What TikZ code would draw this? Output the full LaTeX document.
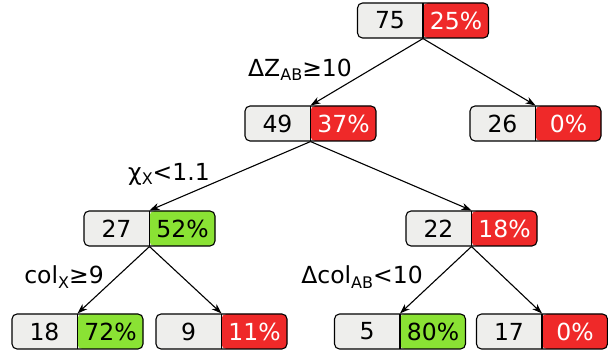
\documentclass[tikz,border=0pt]{standalone}
\usepackage{fontspec}
\setmainfont{DejaVu Sans}
\usetikzlibrary{arrows.meta}
\definecolor{boxgray}{HTML}{EEEEEC}
\definecolor{tred}{HTML}{EF2929}
\definecolor{tgreen}{HTML}{8AE234}
\newcommand\lowtext[1]{\raisebox{-0.35ex}{\fontsize{16}{16}\selectfont #1}}
\tikzset{
  box/.style={draw=black, line width=1.1pt, rounded corners=5pt, minimum width=131pt, minimum height=35pt, inner sep=0pt, fill=boxgray,
    path picture={\fill[#1] (path picture bounding box.south) rectangle (path picture bounding box.north east);
      \draw[line width=1.1pt] (path picture bounding box.south) -- (path picture bounding box.north);}},
  txt/.style={font=\fontsize{23.5}{25}\selectfont, inner sep=0pt},
  lbl/.style={font=\fontsize{23.5}{25}\selectfont, inner sep=0pt},
  edge/.style={line width=1.1pt, -{Stealth[length=10pt,width=7pt,inset=3pt]}}
}
\newcommand\treenode[7]{%
  \node[box=#6] (#1) at (#2,#3) {};
  \node[txt] at ([xshift=-33pt]#1.center) {#4};
  \node[txt,text=#7] at ([xshift=33pt]#1.center) {#5};
}
\begin{document}
\begin{tikzpicture}[x=1pt,y=-1pt]
\useasboundingbox (0,0) rectangle (608,352);
\treenode{n75}{423}{20.5}{75}{25\%}{tred}{white}
\treenode{n49}{310.5}{123.5}{49}{37\%}{tred}{white}
\treenode{n26}{535.5}{123.5}{26}{0\%}{tred}{white}
\treenode{n27}{149.5}{228.5}{27}{52\%}{tgreen}{black}
\treenode{n22}{471.5}{228.5}{22}{18\%}{tred}{white}
\treenode{n18}{77.5}{331.5}{18}{72\%}{tgreen}{black}
\treenode{n9}{221.5}{331.5}{9}{11\%}{tred}{white}
\treenode{n5}{400}{331.5}{5}{80\%}{tgreen}{black}
\treenode{n17}{542}{331.5}{17}{0\%}{tred}{white}
\draw[edge] (n75.south) -- (n49.north);
\draw[edge] (n75.south) -- (n26.north);
\draw[edge] (n49.south) -- (n27.north);
\draw[edge] (n49.south) -- (n22.north);
\draw[edge] (n27.south) -- (n18.north);
\draw[edge] (n27.south) -- (n9.north);
\draw[edge] (n22.south) -- (n5.north);
\draw[edge] (n22.south) -- (n17.north);
\node[lbl] (l1) at (300,70) {ΔZ\lowtext{AB}≥10};
\node[lbl] (l2) at (169,174) {χ\lowtext{X}<1.1};
\node[lbl] (l3) at (64,277) {col\lowtext{X}≥9};
\node[lbl] (l4) at (362,277) {Δcol\lowtext{AB}<10};
\end{tikzpicture}
\end{document}
